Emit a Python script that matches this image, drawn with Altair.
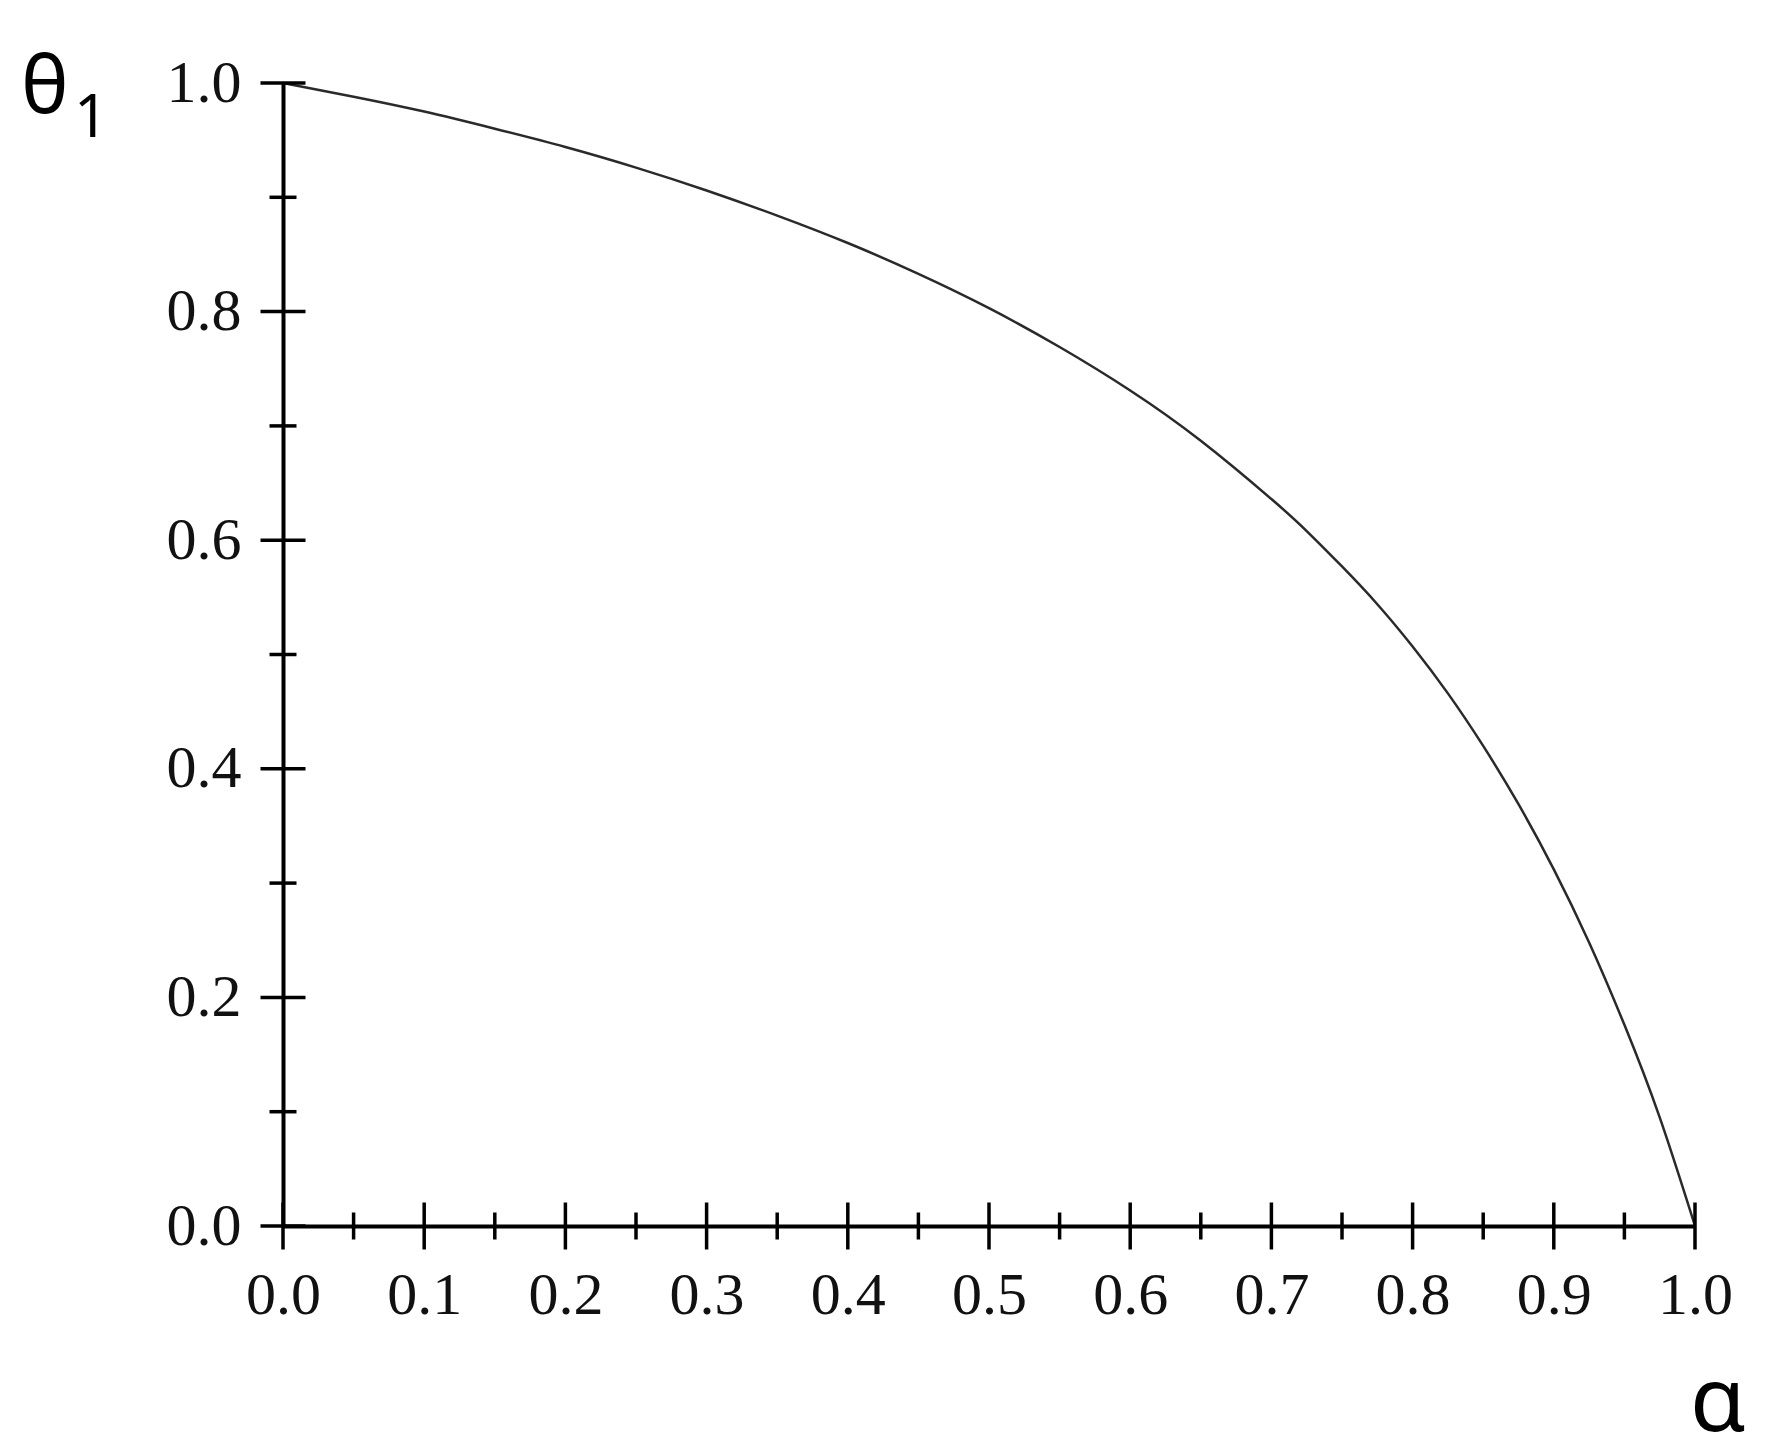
import altair as alt
import pandas as pd

# Curve values
alpha = [0.0, 0.05, 0.1, 0.15, 0.2, 0.25, 0.3, 0.35, 0.4, 0.45, 0.5, 0.55,
         0.6, 0.65, 0.7, 0.725, 0.75, 0.775, 0.8, 0.825, 0.85, 0.875, 0.9, 0.925,
         0.95, 0.975, 1.0]
theta1 = [1.0, 0.988, 0.975, 0.960, 0.944, 0.926, 0.906, 0.884, 0.860, 0.833, 0.803, 0.769,
          0.731, 0.687, 0.636, 0.608, 0.577, 0.544, 0.507, 0.466, 0.420, 0.369, 0.312, 0.248,
          0.176, 0.095, 0.0]

# Axis ticks / labels
x_major = [0.0, 0.1, 0.2, 0.3, 0.4, 0.5, 0.6, 0.7, 0.8, 0.9, 1.0]
x_minor = [0.05, 0.15, 0.25, 0.35, 0.45, 0.55, 0.65, 0.75, 0.85, 0.95]
y_major = [0.0, 0.2, 0.4, 0.6, 0.8, 1.0]
y_minor = [0.1, 0.3, 0.5, 0.7, 0.9]

W, H = 1412, 1143
LABEL_FONT = "Liberation Serif"
SYM_FONT = "Noto Sans"

xs = alt.Scale(domain=[0, 1], nice=False, zero=False)
ys = alt.Scale(domain=[0, 1], nice=False, zero=False)

common_axis = dict(
    title=None, grid=False, ticks=False, tickSize=0, domain=True,
    domainColor="black", domainWidth=4, labelFont=LABEL_FONT,
    labelFontSize=60, labelColor="#111111", labelFlush=False,
    labelOverlap=False, labelBound=False, format=".1f",
)
ax_x = alt.Axis(values=x_major, labelPadding=40, **common_axis)
ax_y = alt.Axis(values=y_major, labelPadding=42, **common_axis)

curve_df = pd.DataFrame({"alpha": alpha, "theta1": theta1})

curve = alt.Chart(curve_df).mark_line(
    color="#2a2a2a", strokeWidth=2.5, interpolate="natural"
).encode(
    x=alt.X("alpha:Q", scale=xs, axis=ax_x),
    y=alt.Y("theta1:Q", scale=ys, axis=ax_y),
)

def xticks(vals, size):
    return alt.Chart(pd.DataFrame({"alpha": vals})).mark_tick(
        orient="vertical", size=size, thickness=3.5, color="black", opacity=1
    ).encode(
        x=alt.X("alpha:Q", scale=xs, axis=ax_x),
        y=alt.YDatum(0, scale=ys, axis=ax_y),
    )

def yticks(vals, size):
    return alt.Chart(pd.DataFrame({"theta1": vals})).mark_tick(
        orient="horizontal", size=size, thickness=3.5, color="black", opacity=1
    ).encode(
        y=alt.Y("theta1:Q", scale=ys, axis=ax_y),
        x=alt.XDatum(0, scale=xs, axis=ax_x),
    )

one = pd.DataFrame({"k": [0]})
theta_lbl = alt.Chart(one).mark_text(
    text="θ", font=SYM_FONT, fontSize=80, align="left", baseline="alphabetic", color="black"
).encode(x=alt.value(-262), y=alt.value(30))
sub_lbl = alt.Chart(one).mark_text(
    text="1", font=SYM_FONT, fontSize=60, align="left", baseline="alphabetic", color="black"
).encode(x=alt.value(-209), y=alt.value(54))
alpha_lbl = alt.Chart(one).mark_text(
    text="α", font=SYM_FONT, fontSize=90, align="left", baseline="alphabetic", color="black"
).encode(x=alt.value(1407), y=alt.value(1348))

chart = alt.layer(
    curve,
    xticks(x_major, 47), xticks(x_minor, 27),
    yticks(y_major, 45), yticks(y_minor, 27),
    theta_lbl, sub_lbl, alpha_lbl,
).properties(
    width=W, height=H,
    padding={"left": 275, "top": 75, "right": 72, "bottom": 217},
    autosize=alt.AutoSizeParams(type="none"),
    background="white",
).configure_view(stroke=None)

chart.save("out.html", embed_options={"renderer": "svg", "actions": False})
